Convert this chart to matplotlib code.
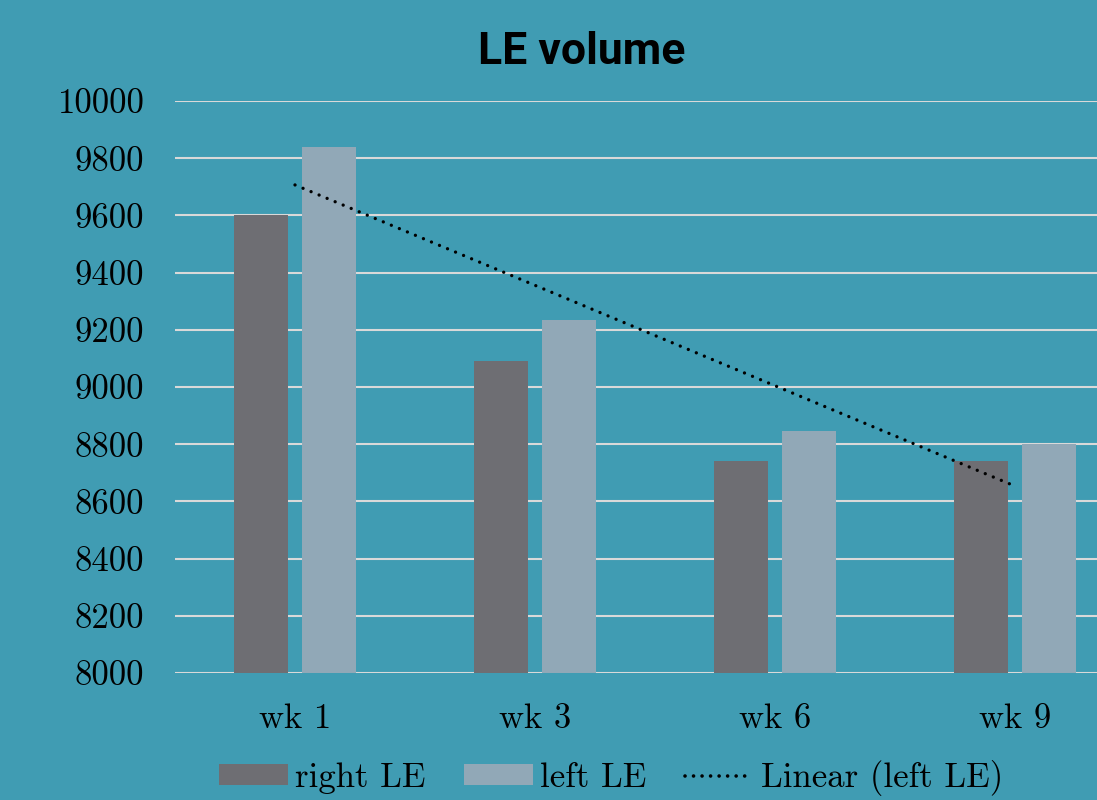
import matplotlib
matplotlib.use("Agg")
import matplotlib.pyplot as plt
import numpy as np
from matplotlib.patches import Patch
from matplotlib.lines import Line2D
from matplotlib.legend_handler import HandlerLine2D

# Data
categories = ["wk 1", "wk 3", "wk 6", "wk 9"]
right_le = [9600, 9090, 8740, 8740]
left_le = [9840, 9235, 8845, 8800]
y_ticks = [8000, 8200, 8400, 8600, 8800, 9000, 9200, 9400, 9600, 9800, 10000]

bg = "#409cb3"
c_right = "#6e6e73"
c_left = "#91a8b7"
grid_c = "#d9d9d9"
dotted = (0, (0.01, 2.6))

plt.rcParams["font.family"] = ["cmr10", "DejaVu Serif"]

fig = plt.figure(figsize=(10.97, 8.0), dpi=100, facecolor=bg)
ax = fig.add_axes([175 / 1097, 1 - 673 / 800, 960 / 1097, 572 / 800])
ax.set_facecolor(bg)

x = np.arange(len(categories))
w = 0.225
off = 0.1417
ax.bar(x - off, right_le, width=w, color=c_right, zorder=2, label="right LE")
ax.bar(x + off, left_le, width=w, color=c_left, zorder=2, label="left LE")

# Linear trend of left LE
coef = np.polyfit(x + 1, left_le, 1)
trend = np.polyval(coef, x + 1)
ax.plot(x, trend, color="black", linewidth=2.4, linestyle=dotted,
        dash_capstyle="round", zorder=3)

ax.set_xlim(-0.5, 3.5)
ax.set_ylim(8000, 10000)
ax.set_yticks(y_ticks)
ax.set_yticklabels([str(v) for v in y_ticks])
ax.set_xticks(x)
ax.set_xticklabels(categories)
ax.yaxis.grid(True, color=grid_c, linewidth=1.5, zorder=1)
ax.set_axisbelow(True)
for s in ax.spines.values():
    s.set_visible(False)
ax.tick_params(axis="both", length=0, labelsize=25, colors="black")
ax.tick_params(axis="y", pad=22)
ax.tick_params(axis="x", pad=22)

fig.text(582 / 1097, 1 - 52 / 800, "LE volume", ha="center", va="center",
         fontsize=32, fontweight="bold",
         family=["Liberation Sans Narrow", "Roboto", "DejaVu Sans"])


class ShortLineHandler(HandlerLine2D):
    """Draws the trend-line key a bit shorter than the patch keys."""

    def create_artists(self, legend, orig_handle, xdescent, ydescent,
                       width, height, fontsize, trans):
        arts = super().create_artists(legend, orig_handle, xdescent, ydescent,
                                      width * 0.88, height, fontsize, trans)
        return arts


handles = [
    Patch(facecolor=c_right, edgecolor="none"),
    Patch(facecolor=c_left, edgecolor="none"),
    Line2D([0], [0], color="black", linewidth=2.6, linestyle=(0, (0.01, 2.35)),
           dash_capstyle="round"),
]
labels = ["right LE", "left LE", "Linear (left LE)"]
fig.legend(handles, labels, loc="center", bbox_to_anchor=(611 / 1097, 1 - 778 / 800),
           ncol=3, frameon=False, fontsize=25, handlelength=2.0, handleheight=0.55,
           handletextpad=0.2, columnspacing=1.1, borderaxespad=0, borderpad=0,
           handler_map={Line2D: ShortLineHandler()})

fig.savefig("out.png", dpi=100, facecolor=bg)
